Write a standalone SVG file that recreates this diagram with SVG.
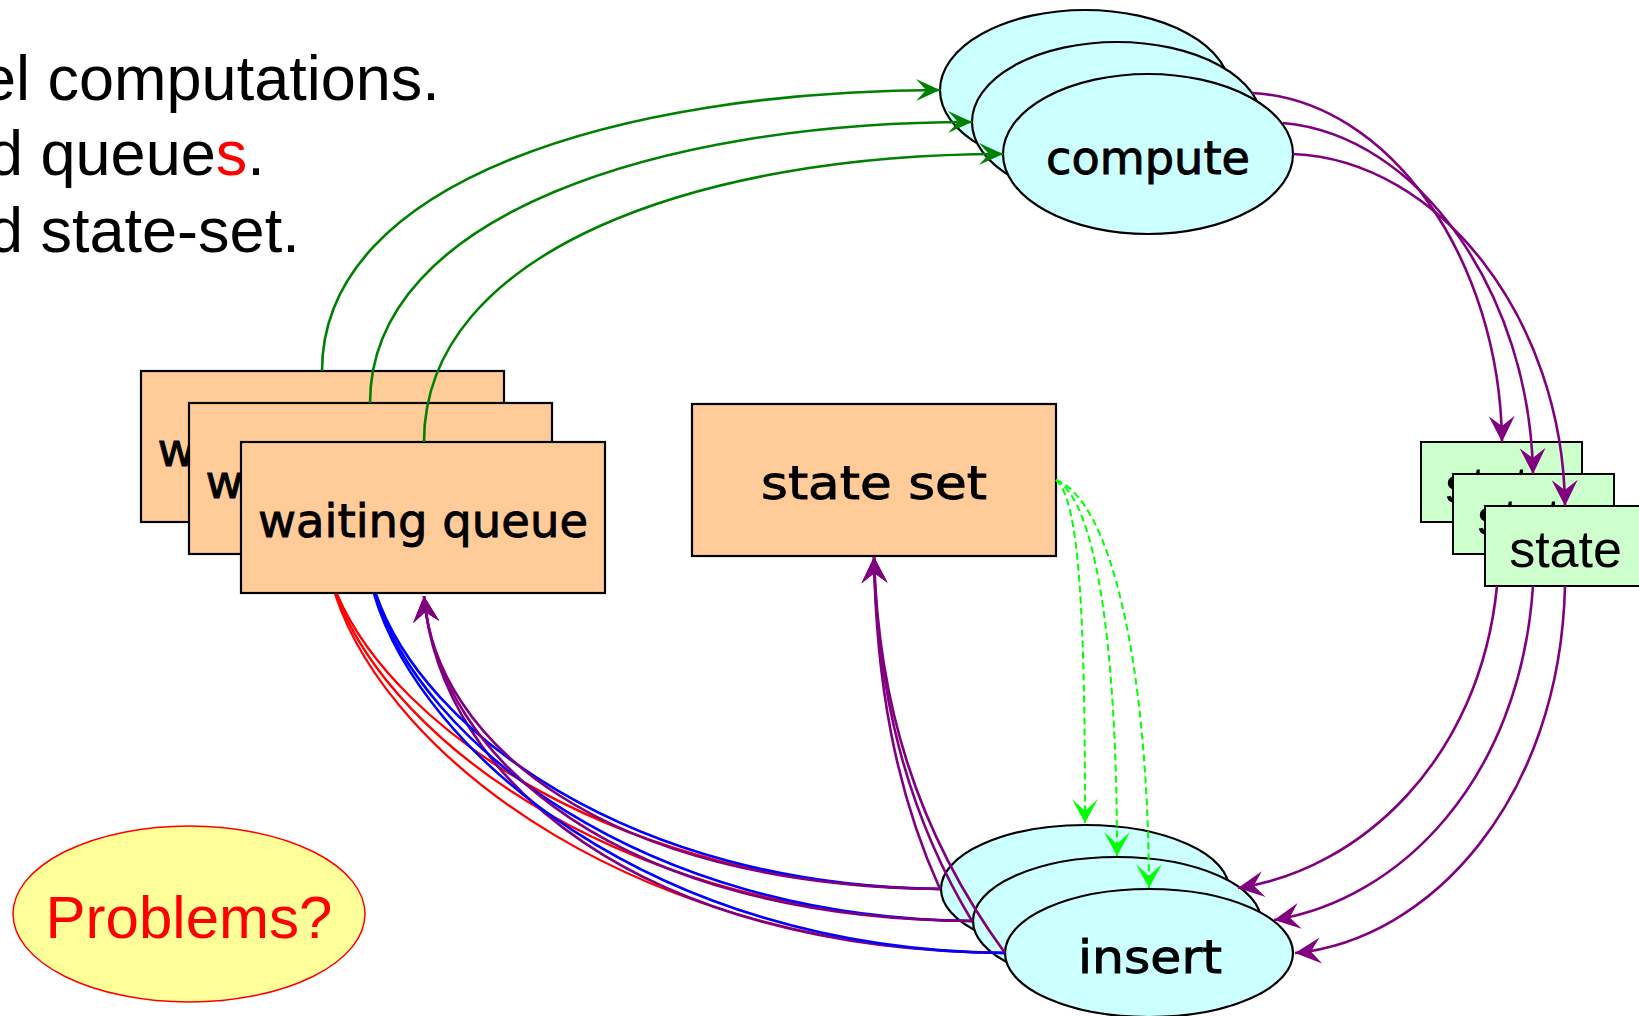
<svg xmlns="http://www.w3.org/2000/svg" width="1639" height="1016" viewBox="0 0 1639 1016">
  <style>
    .hdr { font-family: "Liberation Sans", Arial, sans-serif; font-size: 63px; fill: #000; }
    .lbl { font-family: "DejaVu Sans", sans-serif; font-size: 46px; fill: #000; stroke: #000; stroke-width: 0.9; text-anchor: middle; }
    .lbl2 { font-family: "Liberation Sans", Arial, sans-serif; font-size: 52px; fill: #000; text-anchor: middle; }
    .queue { fill: #ffcc99; stroke: #000; stroke-width: 2.2; }
    .proc { fill: #ccffff; stroke: #000; stroke-width: 2.2; }
    .st { fill: #ccffcc; stroke: #000; stroke-width: 2; }
    .e { fill: none; stroke-width: 2.6; }
    .g { stroke: #008000; marker-end: url(#ah-green); }
    .p { stroke: #800080; }
    .pa { marker-end: url(#ah-purple); }
    .r { stroke: #ff0000; stroke-width: 2.3; }
    .b { stroke: #0000ff; }
    .d { stroke: #00ff00; stroke-width: 2; stroke-dasharray: 7 4; marker-end: url(#ah-lime); }
  </style>
  <defs>
    <marker id="ah-purple" viewBox="-27 -14 28 28" refX="0" refY="0" markerWidth="28" markerHeight="28" markerUnits="userSpaceOnUse" orient="auto">
      <path d="M0,0 L-26,-13 L-16,0 L-26,13 Z" fill="#800080"/>
    </marker>
    <marker id="ah-green" viewBox="-25 -12 26 24" refX="0" refY="0" markerWidth="26" markerHeight="24" markerUnits="userSpaceOnUse" orient="auto">
      <path d="M0,0 L-24,-11 L-14,0 L-24,11 Z" fill="#008000"/>
    </marker>
    <marker id="ah-lime" viewBox="-25 -14 26 28" refX="0" refY="0" markerWidth="26" markerHeight="28" markerUnits="userSpaceOnUse" orient="auto">
      <path d="M0,0 L-24,-13 L-12,0 L-24,13 Z" fill="#00ff00"/>
    </marker>
  </defs>

  <rect width="1639" height="1016" fill="#fff"/>

  <!-- heading lines, running off the left edge -->
  <g id="heading">
    <text class="hdr" x="-19" y="100">el computations.</text>
    <text class="hdr" x="-12" y="175">d queue<tspan fill="#ff0000">s</tspan>.</text>
    <text class="hdr" x="-12" y="252">d state-set.</text>
  </g>

  <!-- stacked waiting queues -->
  <g id="waiting-queue-1">
    <rect class="queue" x="141" y="371" width="363" height="151"/>
    <text class="lbl" x="322.5" y="466" textLength="330" lengthAdjust="spacingAndGlyphs">waiting queue</text>
  </g>
  <g id="waiting-queue-2">
    <rect class="queue" x="189" y="403" width="363" height="151"/>
    <text class="lbl" x="370.5" y="498" textLength="330" lengthAdjust="spacingAndGlyphs">waiting queue</text>
  </g>
  <g id="waiting-queue-3">
    <rect class="queue" x="241" y="442" width="364" height="151"/>
    <text class="lbl" x="423" y="537" textLength="330" lengthAdjust="spacingAndGlyphs">waiting queue</text>
  </g>

  <!-- shared state set -->
  <g id="state-set">
    <rect class="queue" x="692" y="404" width="364" height="152"/>
    <text class="lbl" x="874" y="499" textLength="226" lengthAdjust="spacingAndGlyphs">state set</text>
  </g>

  <!-- stacked compute processes -->
  <g id="compute-1">
    <ellipse class="proc" cx="1085" cy="90" rx="145" ry="80"/>
    <text class="lbl" x="1085" y="110" textLength="204" lengthAdjust="spacingAndGlyphs">compute</text>
  </g>
  <g id="compute-2">
    <ellipse class="proc" cx="1117" cy="122" rx="145" ry="80"/>
    <text class="lbl" x="1117" y="142" textLength="204" lengthAdjust="spacingAndGlyphs">compute</text>
  </g>
  <g id="compute-3">
    <ellipse class="proc" cx="1148" cy="154" rx="145" ry="80"/>
    <text class="lbl" x="1148" y="174" textLength="204" lengthAdjust="spacingAndGlyphs">compute</text>
  </g>

  <!-- stacked states -->
  <g id="state-1">
    <rect class="st" x="1421" y="442" width="161" height="80"/>
    <text class="lbl2" x="1501.5" y="503">state</text>
  </g>
  <g id="state-2">
    <rect class="st" x="1453" y="474" width="161" height="80"/>
    <text class="lbl2" x="1533.5" y="535">state</text>
  </g>
  <g id="state-3">
    <rect class="st" x="1485" y="506" width="161" height="80"/>
    <text class="lbl2" x="1565.5" y="567">state</text>
  </g>

  <!-- stacked insert processes -->
  <g id="insert-1">
    <ellipse class="proc" cx="1085" cy="889" rx="144" ry="64"/>
    <text class="lbl" x="1086" y="909" textLength="144" lengthAdjust="spacingAndGlyphs">insert</text>
  </g>
  <g id="insert-2">
    <ellipse class="proc" cx="1117" cy="921" rx="144" ry="64"/>
    <text class="lbl" x="1118" y="941" textLength="144" lengthAdjust="spacingAndGlyphs">insert</text>
  </g>
  <g id="insert-3">
    <ellipse class="proc" cx="1149" cy="953" rx="144" ry="64"/>
    <text class="lbl" x="1150" y="973" textLength="144" lengthAdjust="spacingAndGlyphs">insert</text>
  </g>

  <!-- callout -->
  <g id="problems">
    <ellipse cx="189" cy="914" rx="176" ry="88" fill="#ffff99" stroke="#ff0000" stroke-width="1.5"/>
    <text x="189" y="938" font-family="'Liberation Sans', Arial, sans-serif" font-size="60" fill="#ff0000" text-anchor="middle">Problems?</text>
  </g>

  <g id="connectors">
    <!-- queue -> compute -->
    <path class="e g" d="M 322 371 C 322 180, 620 91, 940 90"/>
    <path class="e g" d="M 370 403 C 370 215, 660 122, 972 122"/>
    <path class="e g" d="M 424 442 C 424 250, 700 154, 1003 154"/>

    <!-- compute -> state -->
    <path class="e p pa" d="M 1252 93 C 1390 100, 1500 260, 1502 442"/>
    <path class="e p pa" d="M 1283 123 C 1420 135, 1530 295, 1533 474"/>
    <path class="e p pa" d="M 1293 154 C 1440 160, 1563 320, 1565 506"/>

    <!-- state -> insert -->
    <path class="e p pa" d="M 1497 586 C 1480 760, 1360 870, 1238 888"/>
    <path class="e p pa" d="M 1533 586 C 1520 780, 1400 900, 1274 920"/>
    <path class="e p pa" d="M 1565 586 C 1560 800, 1430 940, 1295 953"/>

    <!-- state set -> insert (lookups) -->
    <path class="e d" d="M 1056 480 C 1080 500, 1085 620, 1085 823"/>
    <path class="e d" d="M 1056 480 C 1095 500, 1117 640, 1117 856"/>
    <path class="e d" d="M 1056 480 C 1110 500, 1148 660, 1149 888"/>

    <!-- insert -> state set -->
    <path class="e p pa" d="M 940 889 C 895 790, 876 680, 874 557"/>
    <path class="e p pa" d="M 972 921 C 905 810, 877 690, 874 557"/>
    <path class="e p pa" d="M 1005 953 C 915 830, 878 700, 874 557"/>

    <!-- queue <-> insert bundles -->
    <path class="e r" d="M 337 594 C 395 730, 620 886, 940 889"/>
    <path class="e r" d="M 336 594 C 392 745, 630 918, 972 921"/>
    <path class="e r" d="M 335 594 C 390 760, 640 950, 1005 953"/>
    <path class="e p pa" d="M 1005 953 C 640 950, 440 780, 424 596"/>
    <path class="e b" d="M 376 594 C 422 730, 630 886, 940 889"/>
    <path class="e b" d="M 375 594 C 420 740, 640 918, 972 921"/>
    <path class="e b" d="M 374 594 C 420 750, 650 950, 1005 953"/>
    <path class="e p pa" d="M 940 889 C 600 885, 435 740, 424 596"/>
    <path class="e p pa" d="M 972 921 C 620 918, 438 760, 424 596"/>
  </g>
</svg>
